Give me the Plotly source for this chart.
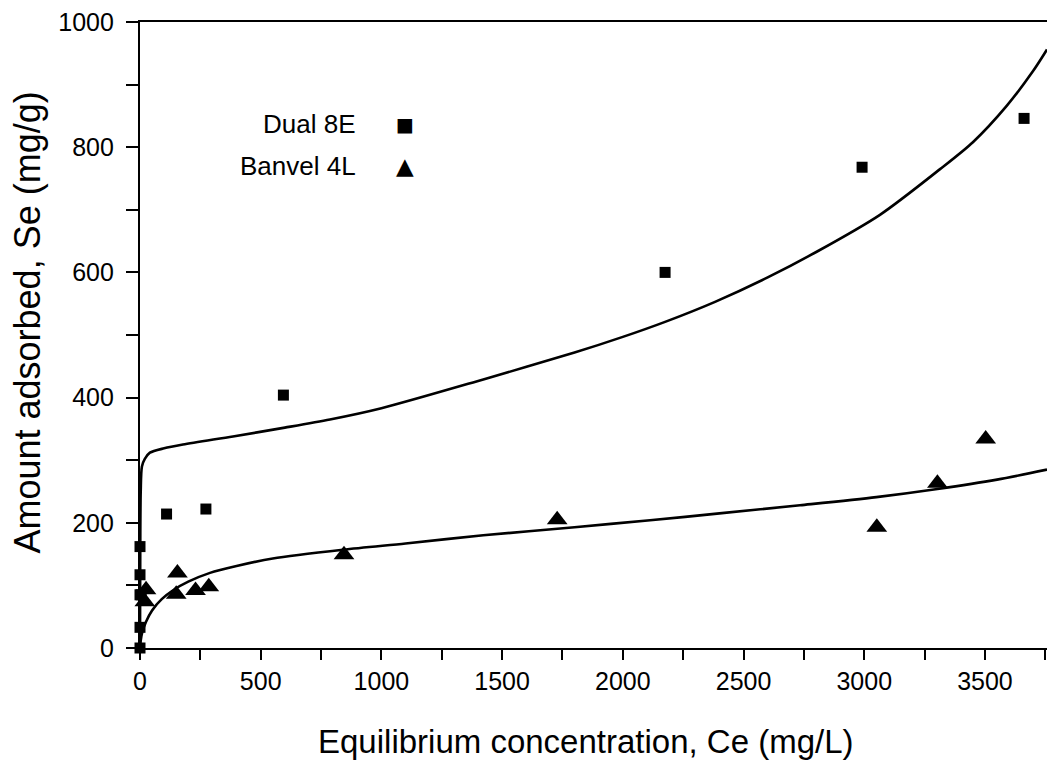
import plotly.graph_objects as go

# Measured adsorption data (Ce in mg/L, Se in mg/g)
dual_ce = [0, 0, 0, 0, 0, 5, 110, 273, 594, 2175, 2991, 3662]
dual_se = [0, 33, 85, 117, 162, 85, 214, 222, 404, 600, 768, 846]

banvel_ce = [20, 25, 150, 155, 230, 285, 845, 1728, 3052, 3303, 3503]
banvel_se = [74, 93, 86, 120, 92, 98, 149, 205, 193, 263, 334]

# Fitted isotherm curves
dual_fit_ce = [0, 1, 3, 8, 20, 41, 100, 178, 385, 600, 787, 1000, 1422,
               1800, 2000, 2175, 2382, 2600, 2803, 3065, 3314, 3450, 3590,
               3700, 3757]
dual_fit_se = [0, 150, 250, 290, 302, 312, 319, 325, 338, 352, 365, 383, 429,
               472, 497, 521, 553, 592, 633, 692, 765, 808, 866, 922, 956]

banvel_fit_ce = [0, 3, 10, 25, 50, 90, 140, 200, 290, 400, 550, 841, 1100,
                 1422, 1800, 2113, 2400, 2734, 3050, 3303, 3550, 3757]
banvel_fit_se = [0, 12, 26, 42, 60, 78, 93, 106, 120, 131, 143, 157, 167,
                 180, 193, 204, 215, 228, 241, 254, 269, 285]

x_ticks = [0, 500, 1000, 1500, 2000, 2500, 3000, 3500]
y_ticks = [0, 200, 400, 600, 800, 1000]

FONT = "Liberation Sans, Arial, Helvetica, sans-serif"

fig = go.Figure()

for fx, fy in [(dual_fit_ce, dual_fit_se), (banvel_fit_ce, banvel_fit_se)]:
    fig.add_trace(go.Scatter(
        x=fx, y=fy, mode="lines",
        line=dict(color="black", width=2.6, shape="spline", smoothing=0.8),
        showlegend=False, hoverinfo="skip"))

fig.add_trace(go.Scatter(
    x=dual_ce, y=dual_se, mode="markers", name="Dual 8E",
    marker=dict(symbol="square", size=11, color="black"),
    cliponaxis=False, showlegend=False))
fig.add_trace(go.Scatter(
    x=banvel_ce, y=banvel_se, mode="markers", name="Banvel 4L",
    marker=dict(symbol="triangle-up", size=18, color="black"),
    cliponaxis=False, showlegend=False))

# Legend: label text followed by its symbol
legend_rows = [("Dual 8E", "■", 0.837, 19), ("Banvel 4L", "▲", 0.770, 23)]
for label, sym, yy, sym_size in legend_rows:
    fig.add_annotation(x=0.240, y=yy, xref="paper", yref="paper",
                       text=label, showarrow=False, xanchor="right",
                       yanchor="middle", font=dict(family=FONT, size=26, color="black"))
    fig.add_annotation(x=0.292, y=yy, xref="paper", yref="paper",
                       text=sym, showarrow=False, xanchor="center",
                       yanchor="middle", font=dict(family="DejaVu Sans", size=sym_size, color="black"))

# Axis titles
fig.add_annotation(x=0.492, y=-0.150, xref="paper", yref="paper",
                   text="Equilibrium concentration, Ce (mg/L)", showarrow=False,
                   xanchor="center", yanchor="middle",
                   font=dict(family=FONT, size=33, color="black"))
fig.add_annotation(x=-0.1245, y=0.52, xref="paper", yref="paper",
                   text="Amount adsorbed, Se (mg/g)", showarrow=False, textangle=-90,
                   xanchor="center", yanchor="middle",
                   font=dict(family=FONT, size=36, color="black"))

fig.update_layout(
    width=1047, height=767,
    margin=dict(l=140, r=0, t=22, b=119),
    paper_bgcolor="white", plot_bgcolor="white",
    font=dict(family=FONT, color="black"),
    showlegend=False,
)

fig.update_xaxes(
    range=[0, 3757], tickvals=x_ticks, ticktext=[str(v) for v in x_ticks],
    showgrid=False, zeroline=False,
    showline=True, linecolor="black", linewidth=2.2, mirror=True,
    ticks="outside", ticklen=10, tickwidth=2, tickcolor="black",
    minor=dict(dtick=250, tick0=0, ticks="outside", ticklen=10, tickwidth=2, tickcolor="black"),
    tickfont=dict(family=FONT, size=25, color="black"),
)
fig.update_yaxes(
    range=[0, 1000], tickvals=y_ticks, ticktext=[str(v) for v in y_ticks],
    showgrid=False, zeroline=False,
    showline=True, linecolor="black", linewidth=2.2, mirror=False,
    ticks="outside", ticklen=12, tickwidth=2, tickcolor="black",
    ticklabelstandoff=7,
    minor=dict(dtick=100, tick0=0, ticks="outside", ticklen=12, tickwidth=2, tickcolor="black"),
    tickfont=dict(family=FONT, size=25, color="black"),
)

fig.write_html("out.html")
